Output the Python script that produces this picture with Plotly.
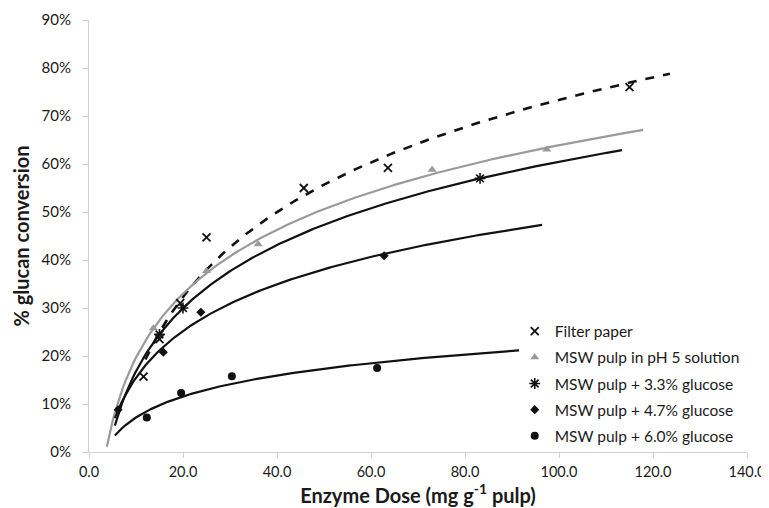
import numpy as np
import plotly.graph_objects as go

# ---- data ----
series_names = ["Filter paper", "MSW pulp in pH 5 solution", "MSW pulp + 3.3% glucose",
                "MSW pulp + 4.7% glucose", "MSW pulp + 6.0% glucose"]

filter_x = [11.6, 15.0, 19.4, 25.0, 45.7, 63.6, 115.0]
filter_y = [15.7, 23.5, 31.0, 44.7, 55.0, 59.2, 76.0]

ph5_x = [13.7, 25.0, 36.0, 73.0, 97.4]
ph5_y = [25.8, 37.7, 43.3, 58.8, 63.0]

g33_x = [15.0, 20.0, 83.2]
g33_y = [24.5, 30.0, 57.0]

g47_x = [6.2, 15.8, 23.8, 62.8]
g47_y = [8.8, 20.8, 29.1, 40.9]

g60_x = [12.3, 19.6, 30.4, 61.3]
g60_y = [7.2, 12.3, 15.8, 17.5]

# extent of each logarithmic trendline (x from, x to)
fit_range = [(12.0, 123.6), (3.8, 117.9), (5.5, 113.4), (5.5, 96.4), (5.5, 91.5)]

x_ticks = [0, 20, 40, 60, 80, 100, 120, 140]
y_ticks = [0, 10, 20, 30, 40, 50, 60, 70, 80, 90]

xs_all = [filter_x, ph5_x, g33_x, g47_x, g60_x]
ys_all = [filter_y, ph5_y, g33_y, g47_y, g60_y]

markers = [
    dict(symbol="x-thin-open", size=8, color="#111", line=dict(width=1.8, color="#111")),
    dict(symbol="triangle-up", size=8, color="#9a9a9a"),
    dict(symbol="asterisk-open", size=9, color="#111", line=dict(width=1.6, color="#111")),
    dict(symbol="diamond", size=7, color="#111"),
    dict(symbol="circle", size=8, color="#111"),
]
lines = [
    dict(color="#111", width=2.6, dash="dash"),
    dict(color="#9a9a9a", width=2.2),
    dict(color="#111", width=2.2),
    dict(color="#111", width=2.2),
    dict(color="#111", width=2.2),
]

fig = go.Figure()
for i in range(5):
    x = np.array(xs_all[i]); y = np.array(ys_all[i]) / 100.0
    a, b = np.polyfit(np.log(x), y, 1)
    xf = np.linspace(fit_range[i][0], fit_range[i][1], 200)
    fig.add_trace(go.Scatter(x=xf, y=a * np.log(xf) + b, mode="lines", line=lines[i],
                             showlegend=False, hoverinfo="skip", legendgroup=f"g{i}"))
for i in range(5):
    fig.add_trace(go.Scatter(x=xs_all[i], y=np.array(ys_all[i]) / 100.0, mode="markers",
                             marker=markers[i], name=series_names[i], legendgroup=f"g{i}"))

font_family = "Lato, 'Open Sans', sans-serif"
# page body has an 8px margin: the figure is offset by 8px, margins compensate
fig.update_layout(
    width=761, height=500,
    margin=dict(l=81, r=22, t=12, b=56),
    paper_bgcolor="white", plot_bgcolor="white",
    font=dict(family=font_family, size=15, color="#1a1a1a"),
    showlegend=True,
    legend=dict(x=0.647, y=0.318, xanchor="left", yanchor="top",
                font=dict(size=15.5, color="#1a1a1a"), bgcolor="rgba(0,0,0,0)",
                tracegroupgap=3, itemwidth=30),
    xaxis=dict(range=[0, 140], tickvals=x_ticks, ticktext=[f"{v:.1f}" for v in x_ticks],
               showgrid=False, zeroline=False, showline=True, linecolor="#d0d0d0", linewidth=1,
               ticks="outside", ticklen=5, tickcolor="#d0d0d0", automargin=False,
               tickfont=dict(size=14.5), ticklabelstandoff=2, ticklabeloverflow="allow",
               title=dict(text="<b>Enzyme Dose (mg g<sup>-1</sup> pulp)</b>", font=dict(size=20), standoff=2)),
    yaxis=dict(range=[0, 0.9], tickvals=[v / 100 for v in y_ticks], ticktext=[f"{v}%" for v in y_ticks],
               showgrid=False, zeroline=False, showline=True, linecolor="#d0d0d0", linewidth=1,
               ticks="outside", ticklen=6, tickcolor="#d0d0d0", automargin=False,
               tickfont=dict(size=15), ticklabelstandoff=8,
               title=dict(text="<b>% glucan conversion</b>", font=dict(size=20), standoff=6)),
)

fig.write_html("out.html")
